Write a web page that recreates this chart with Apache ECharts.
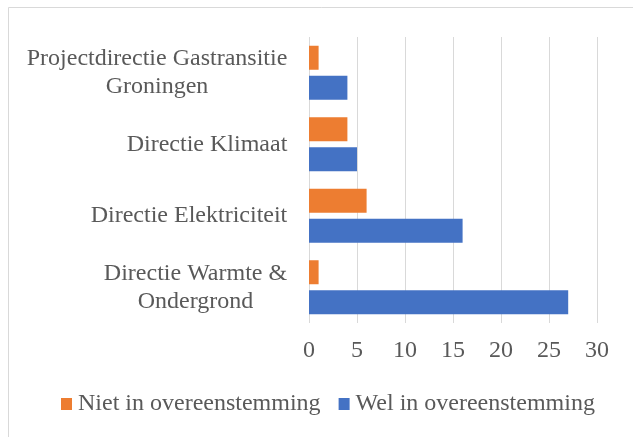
<!DOCTYPE html>
<html>
<head>
<meta charset="utf-8">
<script src="https://cdn.jsdelivr.net/npm/echarts@6/dist/echarts.min.js"></script>
<style>
  html, body { margin: 0; padding: 0; background: #ffffff; }
  #chart { width: 633px; height: 437px; }
</style>
</head>
<body>
<div id="chart"></div>
<script>
// Directies, listed bottom to top as they appear on the category axis
const categories = [
  'Directie Warmte &\nOndergrond',
  'Directie Elektriciteit',
  'Directie Klimaat',
  'Projectdirectie Gastransitie\nGroningen'
];
const seriesNames = ['Niet in overeenstemming', 'Wel in overeenstemming'];
const nietValues = [1, 6, 4, 1];
const welValues = [27, 16, 5, 4];
const tickMin = 0;
const tickMax = 30;
const tickStep = 5;

const FONT = "'Liberation Serif', 'Times New Roman', serif";
const TEXT_COLOR = '#595959';
const LABEL_SIZE = 24;

// Measure each label so that wrapped lines can be centred within their block
const ctx = document.createElement('canvas').getContext('2d');
ctx.font = LABEL_SIZE + 'px ' + FONT;
const rich = {};
categories.forEach(function (c, i) {
  const w = Math.max.apply(null, c.split('\n').map(function (l) { return ctx.measureText(l).width; }));
  rich['c' + i] = {
    width: Math.ceil(w) + 1,
    align: 'center',
    fontFamily: FONT,
    fontSize: LABEL_SIZE,
    lineHeight: 28,
    color: TEXT_COLOR
  };
});

const chart = echarts.init(document.getElementById('chart'), null, { renderer: 'canvas' });
chart.setOption({
  animation: false,
  backgroundColor: '#ffffff',
  textStyle: { fontFamily: FONT },
  graphic: [{
    type: 'rect',
    silent: true,
    shape: { x: 8.5, y: 7.5, width: 700, height: 500 },
    style: { fill: 'none', stroke: '#d9d9d9', lineWidth: 1 }
  }],
  grid: { left: 309, right: 36, top: 37, bottom: 114 },
  legend: {
    data: seriesNames,
    left: 61,
    top: 392,
    padding: 0,
    itemWidth: 11,
    itemHeight: 12,
    itemGap: 18,
    icon: 'rect',
    textStyle: { fontFamily: FONT, fontSize: LABEL_SIZE, color: TEXT_COLOR, padding: [0, 0, 0, 1] }
  },
  xAxis: {
    type: 'value',
    min: tickMin,
    max: tickMax,
    interval: tickStep,
    axisLine: { show: false },
    axisTick: { show: false },
    splitLine: { show: true, lineStyle: { color: '#d9d9d9', width: 1 } },
    axisLabel: { fontFamily: FONT, fontSize: LABEL_SIZE, color: TEXT_COLOR, margin: 16 }
  },
  yAxis: {
    type: 'category',
    data: categories,
    axisLine: { show: false },
    axisTick: { show: false },
    axisLabel: {
      margin: 21,
      formatter: function (value, idx) {
        return value.split('\n').map(function (l) { return '{c' + idx + '|' + l + '}'; }).join('\n');
      },
      rich: rich
    }
  },
  series: [
    {
      name: seriesNames[0],
      type: 'bar',
      data: nietValues,
      barWidth: 24,
      barGap: '25%',
      itemStyle: { color: '#ED7D31' }
    },
    {
      name: seriesNames[1],
      type: 'bar',
      data: welValues,
      barWidth: 24,
      barGap: '25%',
      itemStyle: { color: '#4472C4' }
    }
  ]
});
</script>
</body>
</html>
